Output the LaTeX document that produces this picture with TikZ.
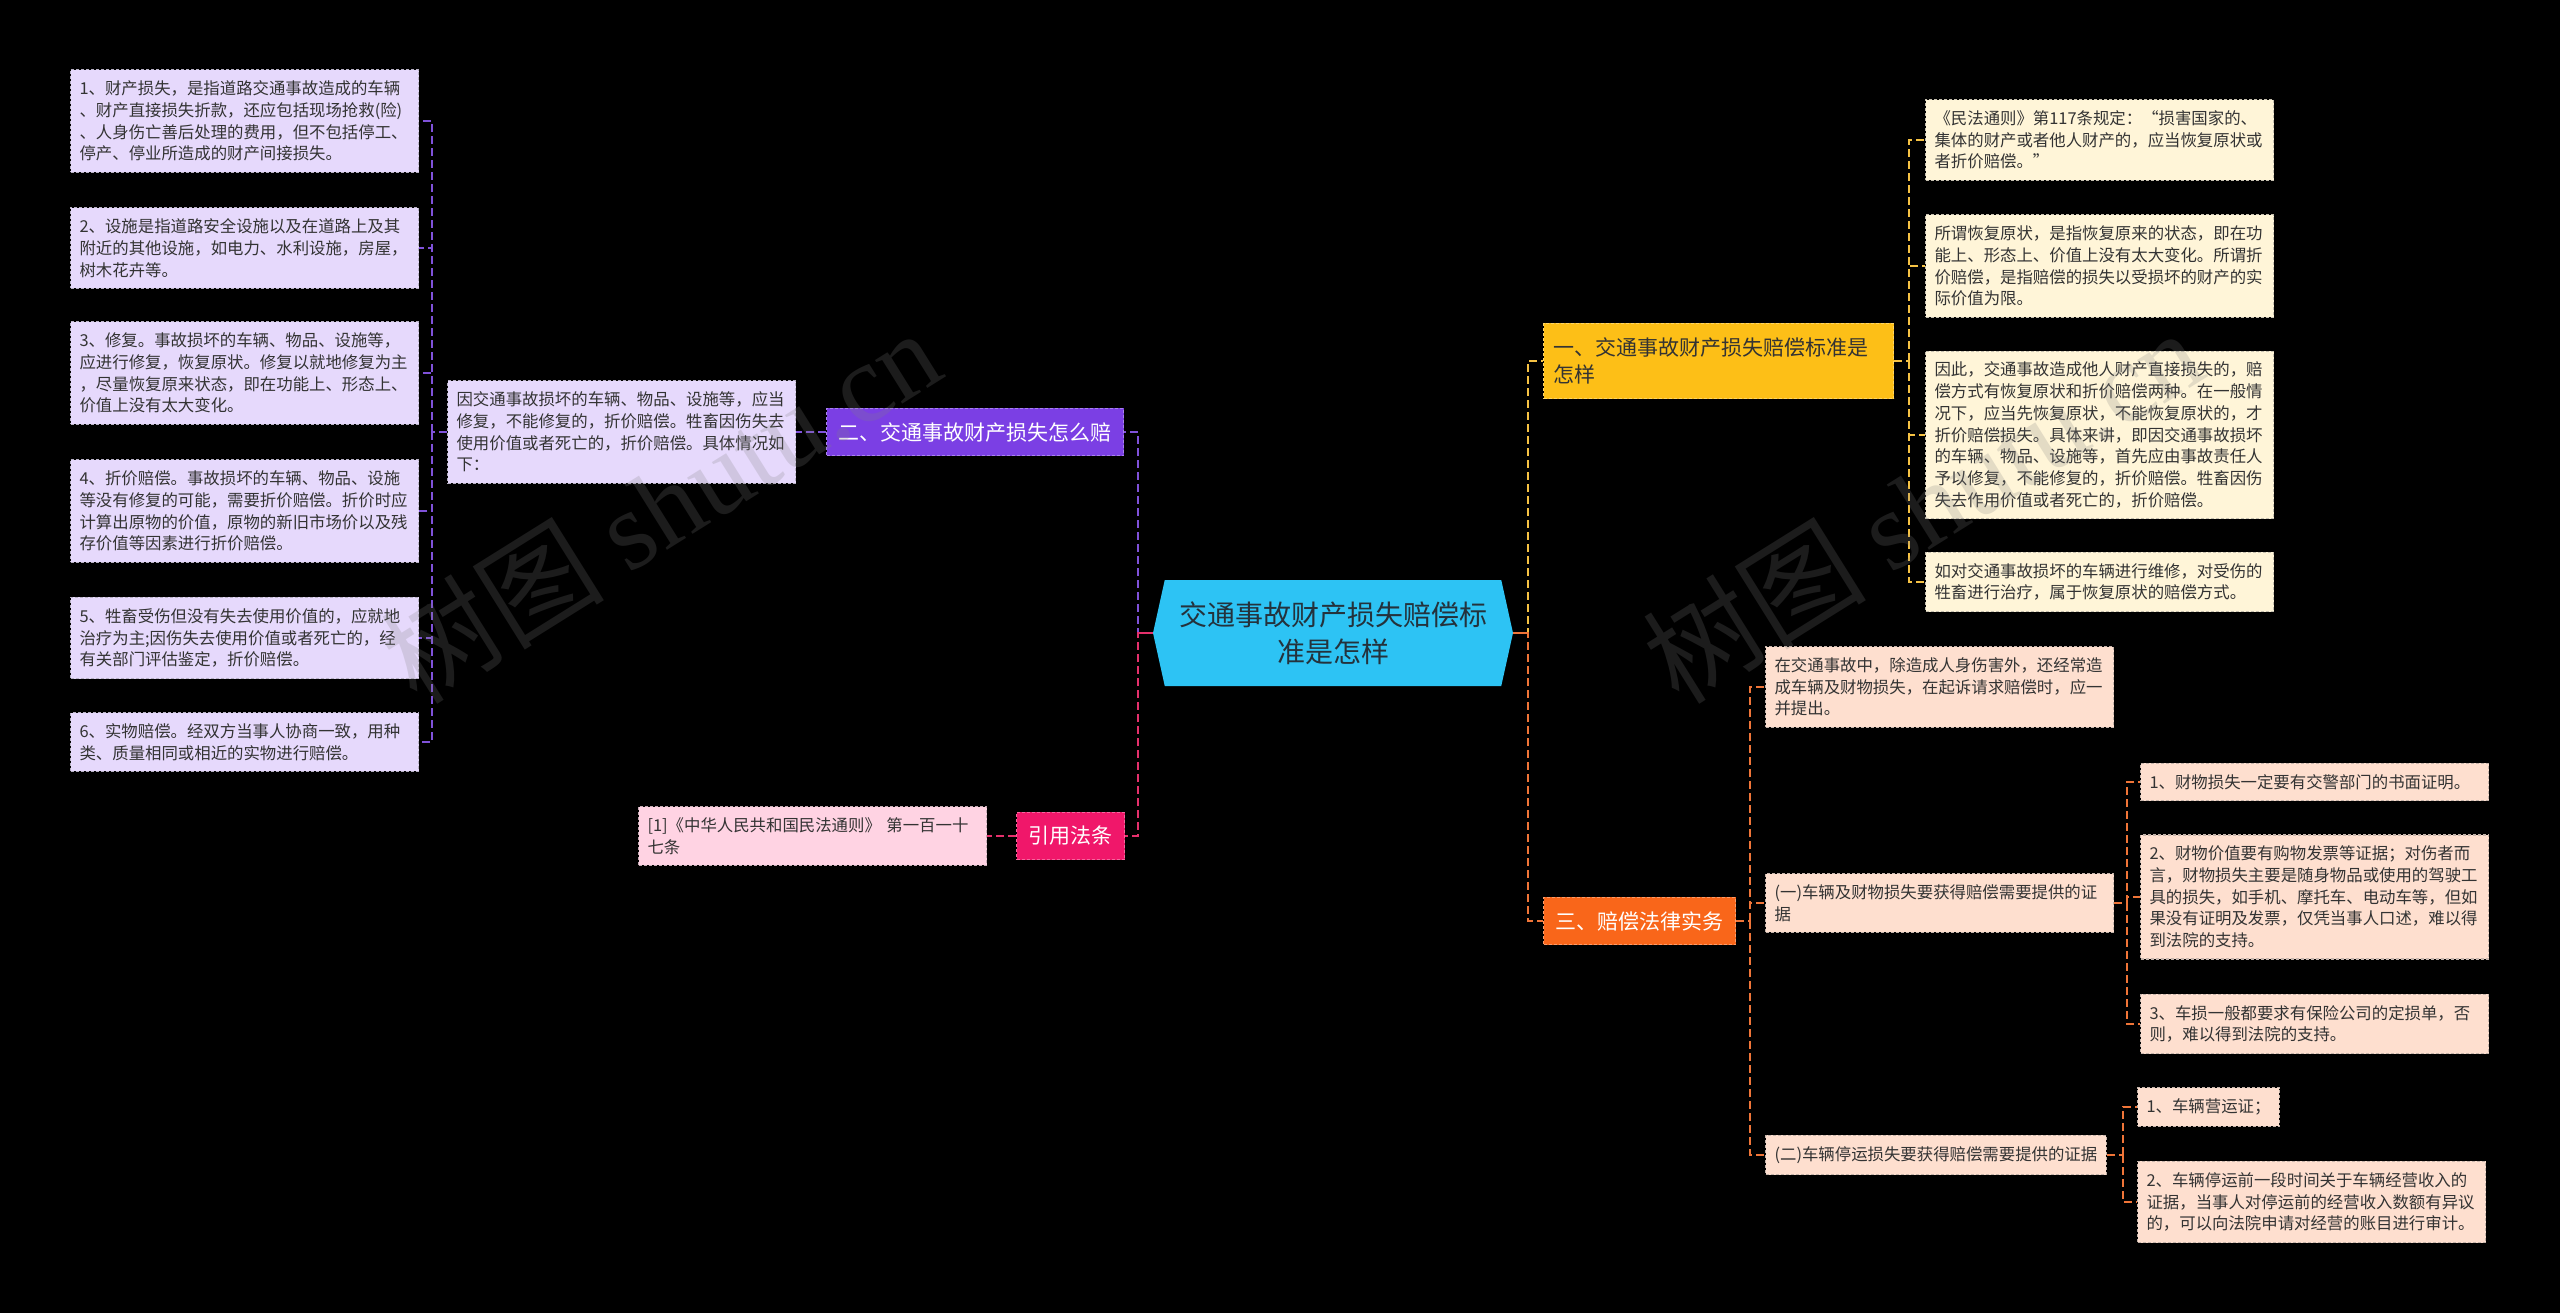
\documentclass[tikz,border=0pt]{standalone}
\usepackage{fontspec}
\setmainfont{Noto Sans CJK SC}
\newfontfamily\marcafont{Liberation Serif}
\usepackage{tikz}
\usetikzlibrary{shapes.symbols}

\definecolor{celeste}{HTML}{2DC3F4}
\definecolor{tinta}{HTML}{24323C}
\definecolor{morado}{HTML}{7B3FE4}
\definecolor{moradoclaro}{HTML}{E6D9FC}
\definecolor{ambar}{HTML}{FDBF17}
\definecolor{crema}{HTML}{FFF5D8}
\definecolor{naranja}{HTML}{F9661A}
\definecolor{melocoton}{HTML}{FEDFCF}
\definecolor{fucsia}{HTML}{F0176A}
\definecolor{rosaclaro}{HTML}{FFD3E3}
\definecolor{texto}{HTML}{333333}
\definecolor{lmorada}{HTML}{8052DA}
\definecolor{lambar}{HTML}{F6C244}
\definecolor{lnaranja}{HTML}{F07538}
\definecolor{lfucsia}{HTML}{E5306C}

\newcommand{\letrahoja}{\fontsize{16.4pt}{21.7pt}\selectfont}
\newcommand{\letrarama}{\fontsize{21pt}{27.7pt}\selectfont}
\newcommand{\letracentro}{\fontsize{28pt}{36.7pt}\selectfont}

\begin{document}
\begin{tikzpicture}[x=1pt,y=-1pt]
\tikzset{
  hoja/.style={anchor=west,fill=#1,draw=#1!55!gray,dash pattern=on 3pt off 2pt,line width=1.1pt,text=texto,font=\letrahoja,align=left,inner xsep=9pt,inner ysep=11pt},
  ancho/.style={text width=330pt},
  rama/.style={anchor=west,fill=#1,draw=#1!65!white,dash pattern=on 3pt off 2pt,line width=1.1pt,text=white,font=\letrarama,align=left,inner xsep=12pt,inner ysep=14pt},
  linea/.style={draw=#1,line width=1.7pt,dash pattern=on 8pt off 4pt},
  marca/.style={text=gray,opacity=0.22,rotate=32,font=\fontsize{112pt}{112pt}\selectfont}
}

% Fondo
\fill[black] (0,0) rectangle (2560,1313);
\useasboundingbox (0,0) rectangle (2560,1313);

% Nodo central
\node (1) at (1333,633) [shape=signal,signal to=east and west,signal pointer angle=155,fill=celeste,text=tinta,font=\letracentro,align=center,minimum width=360pt,minimum height=106pt,inner sep=0pt] {交通事故财产损失赔偿标\\准是怎样};

% Rama: dos (izquierda arriba)
\node (2) at (826,432) [rama=morado] {二、交通事故财产损失怎么赔};
\node (3) at (447,432) [hoja=moradoclaro,ancho] {因交通事故损坏的车辆、物品、设施等，应当\\修复，不能修复的，折价赔偿。牲畜因伤失去\\使用价值或者死亡的，折价赔偿。具体情况如\\下：};
% hojas de la rama dos
\node (4) at (70,121) [hoja=moradoclaro,ancho] {1、财产损失，是指道路交通事故造成的车辆\\、财产直接损失折款，还应包括现场抢救(险)\\、人身伤亡善后处理的费用，但不包括停工、\\停产、停业所造成的财产间接损失。};
\node (5) at (70,248) [hoja=moradoclaro,ancho] {2、设施是指道路安全设施以及在道路上及其\\附近的其他设施，如电力、水利设施，房屋，\\树木花卉等。};
\node (6) at (70,373) [hoja=moradoclaro,ancho] {3、修复。事故损坏的车辆、物品、设施等，\\应进行修复，恢复原状。修复以就地修复为主\\，尽量恢复原来状态，即在功能上、形态上、\\价值上没有太大变化。};
\node (7) at (70,511) [hoja=moradoclaro,ancho] {4、折价赔偿。事故损坏的车辆、物品、设施\\等没有修复的可能，需要折价赔偿。折价时应\\计算出原物的价值，原物的新旧市场价以及残\\存价值等因素进行折价赔偿。};
\node (8) at (70,638) [hoja=moradoclaro,ancho] {5、牲畜受伤但没有失去使用价值的，应就地\\治疗为主;因伤失去使用价值或者死亡的，经\\有关部门评估鉴定，折价赔偿。};
\node (9) at (70,742) [hoja=moradoclaro,ancho] {6、实物赔偿。经双方当事人协商一致，用种\\类、质量相同或相近的实物进行赔偿。};

% Rama: referencias (izquierda abajo)
\node (10) at (1016,836) [rama=fucsia] {引用法条};
\node (11) at (638,836) [hoja=rosaclaro,ancho] {[1]《中华人民共和国民法通则》 第一百一十\\七条};

% Rama: uno (derecha arriba)
\node (12) at (1543,361) [rama=ambar,text=texto,text width=330pt,inner xsep=10pt] {一、交通事故财产损失赔偿标准是\\怎样};
\node (13) at (1925,140) [hoja=crema,ancho] {《民法通则》第117条规定：“损害国家的、\\集体的财产或者他人财产的，应当恢复原状或\\者折价赔偿。”};
\node (14) at (1925,266) [hoja=crema,ancho] {所谓恢复原状，是指恢复原来的状态，即在功\\能上、形态上、价值上没有太大变化。所谓折\\价赔偿，是指赔偿的损失以受损坏的财产的实\\际价值为限。};
\node (15) at (1925,435) [hoja=crema,ancho] {因此，交通事故造成他人财产直接损失的，赔\\偿方式有恢复原状和折价赔偿两种。在一般情\\况下，应当先恢复原状，不能恢复原状的，才\\折价赔偿损失。具体来讲，即因交通事故损坏\\的车辆、物品、设施等，首先应由事故责任人\\予以修复，不能修复的，折价赔偿。牲畜因伤\\失去作用价值或者死亡的，折价赔偿。};
\node (16) at (1925,582) [hoja=crema,ancho] {如对交通事故损坏的车辆进行维修，对受伤的\\牲畜进行治疗，属于恢复原状的赔偿方式。};

% Rama: tres (derecha abajo)
\node (17) at (1543,921) [rama=naranja] {三、赔偿法律实务};
\node (18) at (1765,687) [hoja=melocoton,ancho] {在交通事故中，除造成人身伤害外，还经常造\\成车辆及财物损失，在起诉请求赔偿时，应一\\并提出。};
\node (19) at (1765,903) [hoja=melocoton,ancho] {(一)车辆及财物损失要获得赔偿需要提供的证\\据};
\node (20) at (1765,1155) [hoja=melocoton] {(二)车辆停运损失要获得赔偿需要提供的证据};
\node (21) at (2140,782) [hoja=melocoton,ancho] {1、财物损失一定要有交警部门的书面证明。};
\node (22) at (2140,897) [hoja=melocoton,ancho] {2、财物价值要有购物发票等证据；对伤者而\\言，财物损失主要是随身物品或使用的驾驶工\\具的损失，如手机、摩托车、电动车等，但如\\果没有证明及发票，仅凭当事人口述，难以得\\到法院的支持。};
\node (23) at (2140,1024) [hoja=melocoton,ancho] {3、车损一般都要求有保险公司的定损单，否\\则，难以得到法院的支持。};
\node (24) at (2137,1107) [hoja=melocoton] {1、车辆营运证；};
\node (25) at (2137,1202) [hoja=melocoton,ancho] {2、车辆停运前一段时间关于车辆经营收入的\\证据，当事人对停运前的经营收入数额有异议\\的，可以向法院申请对经营的账目进行审计。};

% Puntos de las barras
\coordinate (bar_c_izq) at (1138,633);
\coordinate (bar_c_der) at (1528,633);
\coordinate (bar_3) at (432,432);
\coordinate (bar_12) at (1909,361);
\coordinate (bar_17) at (1750,921);
\coordinate (bar_19) at (2127,903);
\coordinate (bar_20) at (2123,1155);

% --- Conectores izquierda ---
\draw[linea=lmorada] (1.west) -- (bar_c_izq) |- (2.east);
\draw[linea=lmorada] (2.west) -- (3.east);
\draw[linea=lmorada] (3.west) -- (bar_3);
\draw[linea=lmorada] (bar_3) |- (4.east);
\draw[linea=lmorada] (bar_3) |- (5.east);
\draw[linea=lmorada] (bar_3) |- (6.east);
\draw[linea=lmorada] (bar_3) |- (7.east);
\draw[linea=lmorada] (bar_3) |- (8.east);
\draw[linea=lmorada] (bar_3) |- (9.east);
\draw[linea=lfucsia] (1.west) -- (bar_c_izq) |- (10.east);
\draw[linea=lfucsia] (10.west) -- (11.east);
\draw[lfucsia,line width=1.7pt] (1.west) -- (bar_c_izq);

% --- Conectores derecha ---
\draw[linea=lambar] (1.east) -- (bar_c_der) |- (12.west);
\draw[linea=lambar] (12.east) -- (bar_12);
\draw[linea=lambar] (bar_12) |- (13.west);
\draw[linea=lambar] (bar_12) |- (14.west);
\draw[linea=lambar] (bar_12) |- (15.west);
\draw[linea=lambar] (bar_12) |- (16.west);
\draw[linea=lnaranja] (1.east) -- (bar_c_der) |- (17.west);
\draw[lnaranja,line width=1.7pt] (1.east) -- (bar_c_der);
\draw[linea=lnaranja] (17.east) -- (bar_17);
\draw[linea=lnaranja] (bar_17) |- (18.west);
\draw[linea=lnaranja] (bar_17) |- (19.west);
\draw[linea=lnaranja] (bar_17) |- (20.west);
\draw[linea=lnaranja] (19.east) -- (bar_19);
\draw[linea=lnaranja] (bar_19) |- (21.west);
\draw[linea=lnaranja] (bar_19) |- (22.west);
\draw[linea=lnaranja] (bar_19) |- (23.west);
\draw[linea=lnaranja] (20.east) -- (bar_20);
\draw[linea=lnaranja] (bar_20) |- (24.west);
\draw[linea=lnaranja] (bar_20) |- (25.west);

% Marcas de agua
\node (m1) at (660,505) [marca] {树图 {\marcafont shutu.cn}};
\node (m2) at (1922,505) [marca] {树图 {\marcafont shutu.cn}};

\end{tikzpicture}
\end{document}
